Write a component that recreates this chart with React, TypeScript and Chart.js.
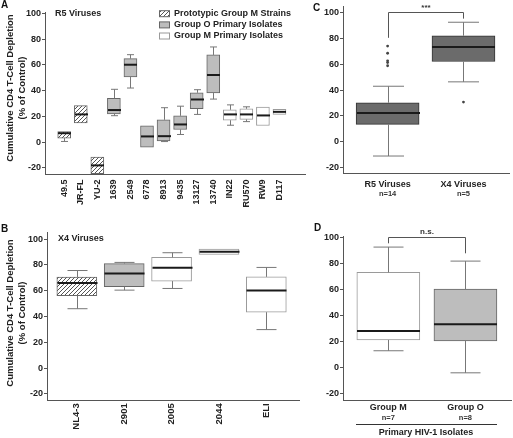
import React, { useEffect, useRef } from 'react';
import { Chart, registerables } from 'chart.js';

Chart.register(...registerables);

const FONT = '"Liberation Sans", Arial, Helvetica, sans-serif';

// ---------- Panel A: R5 viruses ----------
const r5Strains = ['49.5', 'JR-FL', 'YU-2', '1639', '2549', '6778', '8913', '9435', '13127', '13740', 'IN22', 'RU570', 'RW9', 'D117'];
const r5Kind = ['hatch', 'hatch', 'hatch', 'grey', 'grey', 'grey', 'grey', 'grey', 'grey', 'grey', 'white', 'white', 'white', 'white'];
const r5Low = [0.6, 15, -24.5, 20.6, 42.1, -3.8, 0.5, 6, 21.6, 33.5, 13.2, 16, 13, 21.6];
const r5Q1 = [3.2, 15, -24.5, 21.9, 50.7, -3.8, 1, 9.9, 26, 38.2, 17.1, 17.7, 13, 21.6];
const r5Median = [7, 21.6, -18, 25, 60.2, 4.5, 4.7, 13.8, 33.2, 52.2, 21.6, 21.6, 20.8, 23.6];
const r5Q3 = [8.2, 28.4, -11.5, 34.1, 64.9, 12.8, 17.4, 20.5, 38.4, 67.8, 25.2, 26, 27.3, 25.5];
const r5High = [8.2, 28.4, -11.5, 41.1, 68, 12.8, 26.8, 28, 40.8, 74, 29, 27.5, 27.3, 25.5];

// ---------- Panel B: X4 viruses ----------
const x4Strains = ['NL4-3', '2901', '2005', '2044', 'ELI'];
const x4Kind = ['hatch', 'grey', 'white', 'white', 'white'];
const x4Low = [46, 60.4, 61.7, 88, 29.8];
const x4Q1 = [56.2, 63, 67.4, 88, 43.3];
const x4Median = [66, 73.3, 77.7, 90.2, 60.1];
const x4Q3 = [70.5, 81, 85.8, 92.2, 70.7];
const x4High = [75.6, 81.9, 89.4, 92.2, 78];

// ---------- Panel C: R5 vs X4 ----------
const tropismGroups = ['R5 Viruses', 'X4 Viruses'];
const tropismCounts = ['n=14', 'n=5'];
const tropismKind = ['dark', 'dark'];
const tropismLow = [-11.2, 46.4];
const tropismQ1 = [13.4, 62.2];
const tropismMedian = [22.3, 73.5];
const tropismQ3 = [30.2, 82.2];
const tropismHigh = [43, 92.7];
const r5Outliers = [74.2, 68.6, 62.7, 61.4, 58.9];
const x4Outliers = [30.7];

// ---------- Panel D: Group M vs Group O ----------
const isolateGroups = ['Group M', 'Group O'];
const isolateCounts = ['n=7', 'n=8'];
const isolateKind = ['white', 'grey'];
const isolateLow = [13.1, -3.9];
const isolateQ1 = [21.4, 20.6];
const isolateMedian = [28.4, 33.5];
const isolateQ3 = [73.5, 60.6];
const isolateHigh = [93, 82.2];

const legendItems = ['Prototypic Group M Strains', 'Group O Primary Isolates', 'Group M Primary Isolates'];
const legendKinds = ['hatch', 'grey', 'white'];
const yTitleLines = ['Cumulative CD4 T-Cell Depletion', '(% of Control)'];

const FILL: Record<string, string> = { grey: '#bdbdbd', white: '#ffffff', dark: '#6b6b6b' };
const BORDER: Record<string, string> = { hatch: '#666666', grey: '#666666', white: '#9a9a9a', dark: '#333333' };

function makeHatch(): CanvasPattern {
  const c = document.createElement('canvas');
  c.width = 4;
  c.height = 4;
  const g = c.getContext('2d')!;
  g.fillStyle = '#ffffff';
  g.fillRect(0, 0, 4, 4);
  g.strokeStyle = '#555555';
  g.lineWidth = 1;
  g.beginPath();
  g.moveTo(0, 4); g.lineTo(4, 0);
  g.moveTo(-1, 1); g.lineTo(1, -1);
  g.moveTo(3, 5); g.lineTo(5, 3);
  g.stroke();
  return g.createPattern(c, 'repeat')!;
}

function txt(ctx: CanvasRenderingContext2D, s: string, x: number, y: number, size: number,
  align: CanvasTextAlign = 'left', baseline: CanvasTextBaseline = 'middle', color = '#222') {
  ctx.save();
  ctx.font = `bold ${size}px ${FONT}`;
  ctx.fillStyle = color;
  ctx.textAlign = align;
  ctx.textBaseline = baseline;
  ctx.fillText(s, x, y);
  ctx.restore();
}

function yTitle(ctx: CanvasRenderingContext2D, x: number, cy: number) {
  ctx.save();
  ctx.translate(x, cy);
  ctx.rotate(-Math.PI / 2);
  ctx.font = `bold 9.5px ${FONT}`;
  ctx.fillStyle = '#222';
  ctx.textAlign = 'center';
  ctx.textBaseline = 'middle';
  ctx.fillText(yTitleLines[0], 0, 0);
  ctx.fillText(yTitleLines[1], 0, 12);
  ctx.restore();
}

interface PanelSpec {
  labels: string[]; kind: string[];
  low: number[]; q1: number[]; med: number[]; q3: number[]; high: number[];
  xMin: number; xMax: number; yMax: number;
  boxWidth: number; capWidth: number;
  yWidth: number; xHeight: number; padTop: number; padRight: number;
  rotate: boolean; tickSize: number; tickPad: number;
  extra?: any[];
  decorate: (chart: any, hatch: CanvasPattern) => void;
}

function makeConfig(s: PanelSpec): any {
  const hatch = makeHatch();
  const fillOf = (k: string) => (k === 'hatch' ? hatch : FILL[k]);
  const tickFont = { family: FONT, size: s.tickSize, weight: 'bold' as const };
  return {
    type: 'bar',
    data: {
      datasets: [
        {
          type: 'bar',
          data: s.labels.map((_, i) => ({ x: i, y: [s.q1[i], s.q3[i]] })),
          backgroundColor: s.kind.map(fillOf),
          borderColor: s.kind.map((k) => BORDER[k]),
          borderWidth: 1,
          borderSkipped: false,
          barThickness: s.boxWidth,
        },
        ...(s.extra || []),
      ],
    },
    options: {
      responsive: false,
      animation: false,
      devicePixelRatio: 1,
      layout: { padding: { top: s.padTop, right: s.padRight, left: 0, bottom: 0 } },
      plugins: { legend: { display: false }, tooltip: { enabled: false } },
      scales: {
        x: {
          type: 'linear',
          min: s.xMin,
          max: s.xMax,
          offset: false,
          afterFit: (sc: any) => { sc.height = s.xHeight; },
          border: { display: true, color: '#555555', width: 1 },
          grid: { display: false, drawTicks: false },
          ticks: {
            stepSize: 1,
            autoSkip: false,
            includeBounds: false,
            maxRotation: s.rotate ? 90 : 0,
            minRotation: s.rotate ? 90 : 0,
            padding: s.tickPad,
            color: '#222',
            font: tickFont,
            callback: (v: number) => (Number.isInteger(v) && s.labels[v] !== undefined ? s.labels[v] : ''),
          },
        },
        y: {
          min: -25,
          max: s.yMax,
          afterFit: (sc: any) => { sc.width = s.yWidth; },
          border: { display: true, color: '#555555', width: 1 },
          grid: { display: true, drawOnChartArea: false, drawTicks: true, tickLength: 3, color: '#555555' },
          ticks: { stepSize: 20, includeBounds: false, padding: 1, color: '#222', font: { family: FONT, size: 9, weight: 'bold' } },
        },
      },
    },
    plugins: [
      {
        id: 'boxWhiskers',
        afterDatasetsDraw(chart: any) {
          const { ctx, scales: { x, y } } = chart;
          ctx.save();
          s.labels.forEach((_, i) => {
            const cx = Math.round(x.getPixelForValue(i)) + 0.5;
            const pHigh = y.getPixelForValue(s.high[i]);
            const pQ3 = y.getPixelForValue(s.q3[i]);
            const pQ1 = y.getPixelForValue(s.q1[i]);
            const pLow = y.getPixelForValue(s.low[i]);
            const pMed = y.getPixelForValue(s.med[i]);
            ctx.strokeStyle = '#777777';
            ctx.lineWidth = 1;
            ctx.beginPath();
            if (s.high[i] > s.q3[i]) {
              ctx.moveTo(cx, pQ3); ctx.lineTo(cx, pHigh);
              ctx.moveTo(cx - s.capWidth / 2, pHigh); ctx.lineTo(cx + s.capWidth / 2, pHigh);
            }
            if (s.low[i] < s.q1[i]) {
              ctx.moveTo(cx, pQ1); ctx.lineTo(cx, pLow);
              ctx.moveTo(cx - s.capWidth / 2, pLow); ctx.lineTo(cx + s.capWidth / 2, pLow);
            }
            ctx.stroke();
            ctx.strokeStyle = '#1a1a1a';
            ctx.lineWidth = 2;
            ctx.beginPath();
            ctx.moveTo(cx - s.boxWidth / 2, pMed);
            ctx.lineTo(cx + s.boxWidth / 2, pMed);
            ctx.stroke();
          });
          ctx.restore();
        },
        afterDraw(chart: any) {
          s.decorate(chart, hatch);
        },
      },
    ],
  };
}

function bracket(chart: any, top: number, leftEnd: number, rightEnd: number, label: string, labelY: number) {
  const { ctx, scales: { x, y } } = chart;
  const x0 = Math.round(x.getPixelForValue(0)) + 0.5;
  const x1 = Math.round(x.getPixelForValue(1)) + 0.5;
  ctx.save();
  ctx.strokeStyle = '#555555';
  ctx.lineWidth = 1;
  ctx.beginPath();
  ctx.moveTo(x0, y.getPixelForValue(leftEnd));
  ctx.lineTo(x0, Math.round(y.getPixelForValue(top)) + 0.5);
  ctx.lineTo(x1, Math.round(y.getPixelForValue(top)) + 0.5);
  ctx.lineTo(x1, y.getPixelForValue(rightEnd));
  ctx.stroke();
  ctx.restore();
  txt(ctx, label, (x0 + x1) / 2, y.getPixelForValue(labelY), 8, 'center', 'middle', '#333');
}

const specA: PanelSpec = {
  labels: r5Strains, kind: r5Kind, low: r5Low, q1: r5Q1, med: r5Median, q3: r5Q3, high: r5High,
  xMin: -1.16, xMax: 14.56, yMax: 101, boxWidth: 13, capWidth: 7,
  yWidth: 45, xHeight: 45.6, padTop: 12.2, padRight: 5, rotate: true, tickSize: 9, tickPad: 5,
  decorate: (chart, hatch) => {
    const ctx = chart.ctx;
    txt(ctx, 'A', 1, 0, 10, 'left', 'top', '#111');
    yTitle(ctx, 10, 88);
    txt(ctx, 'R5 Viruses', 55, 13.5, 9);
    const rows = [13.7, 24.9, 36];
    legendItems.forEach((t, i) => {
      const k = legendKinds[i];
      ctx.save();
      ctx.fillStyle = k === 'hatch' ? hatch : FILL[k];
      ctx.strokeStyle = BORDER[k];
      ctx.lineWidth = 1;
      ctx.fillRect(159.5, rows[i] - 3, 10, 6);
      ctx.strokeRect(159.5, rows[i] - 3, 10, 6);
      ctx.restore();
      txt(ctx, t, 174, rows[i], 9);
    });
  },
};

const specB: PanelSpec = {
  labels: x4Strains, kind: x4Kind, low: x4Low, q1: x4Q1, med: x4Median, q3: x4Q3, high: x4High,
  xMin: -0.63, xMax: 4.69, yMax: 105, boxWidth: 40, capWidth: 20,
  yWidth: 47, xHeight: 37.7, padTop: 12.6, padRight: 13, rotate: true, tickSize: 9.5, tickPad: 3,
  decorate: (chart) => {
    const ctx = chart.ctx;
    txt(ctx, 'B', 1, 4, 10, 'left', 'top', '#111');
    yTitle(ctx, 10, 93);
    txt(ctx, 'X4 Viruses', 58, 18.5, 9);
  },
};

const specC: PanelSpec = {
  labels: tropismGroups, kind: tropismKind, low: tropismLow, q1: tropismQ1, med: tropismMedian, q3: tropismQ3, high: tropismHigh,
  xMin: -0.588, xMax: 1.6, yMax: 105, boxWidth: 63, capWidth: 31,
  yWidth: 31, xHeight: 46.2, padTop: 4.5, padRight: 1.3, rotate: false, tickSize: 9, tickPad: 5,
  extra: [
    {
      type: 'scatter',
      data: [...r5Outliers.map((v) => ({ x: 0, y: v })), ...x4Outliers.map((v) => ({ x: 1, y: v }))],
      pointRadius: 1.4,
      pointBackgroundColor: '#444444',
      pointBorderWidth: 0,
      showLine: false,
    },
  ],
  decorate: (chart) => {
    const { ctx, scales: { x } } = chart;
    txt(ctx, 'C', 1, 3, 10, 'left', 'top', '#111');
    tropismCounts.forEach((n, i) => txt(ctx, n, x.getPixelForValue(i), 194, 7.5, 'center', 'middle', '#333'));
    bracket(chart, 100.6, 80.6, 95.5, '***', 104.2);
  },
};

const specD: PanelSpec = {
  labels: isolateGroups, kind: isolateKind, low: isolateLow, q1: isolateQ1, med: isolateMedian, q3: isolateQ3, high: isolateHigh,
  xMin: -0.588, xMax: 1.6, yMax: 101, boxWidth: 63, capWidth: 30,
  yWidth: 31, xHeight: 37.8, padTop: 16.7, padRight: 1.3, rotate: false, tickSize: 9, tickPad: 2,
  decorate: (chart) => {
    const { ctx, scales: { x } } = chart;
    txt(ctx, 'D', 2, 3, 10, 'left', 'top', '#111');
    isolateCounts.forEach((n, i) => txt(ctx, n, x.getPixelForValue(i), 198, 7.5, 'center', 'middle', '#333'));
    ctx.save();
    ctx.strokeStyle = '#333333';
    ctx.lineWidth = 1;
    ctx.beginPath();
    ctx.moveTo(44, 204.5);
    ctx.lineTo(185, 204.5);
    ctx.stroke();
    ctx.restore();
    txt(ctx, 'Primary HIV-1 Isolates', 114, 213, 9, 'center', 'middle', '#222');
    bracket(chart, 101, 95.9, 88.2, 'n.s.', 105);
  },
};

function Panel({ spec, left, top, width, height }: { spec: PanelSpec; left: number; top: number; width: number; height: number }) {
  const ref = useRef<HTMLCanvasElement>(null);
  useEffect(() => {
    const chart = new Chart(ref.current!, makeConfig(spec));
    return () => chart.destroy();
  }, [spec]);
  return (
    <canvas
      ref={ref}
      width={width}
      height={height}
      style={{ position: 'absolute', left, top, width, height }}
    />
  );
}

export default function App() {
  return (
    <div style={{ position: 'fixed', left: 0, top: 0, width: 513, height: 438, background: '#ffffff', overflow: 'hidden' }}>
      <Panel spec={specA} left={0} top={0} width={312} height={220} />
      <Panel spec={specC} left={312} top={0} width={201} height={220} />
      <Panel spec={specB} left={0} top={220} width={312} height={218} />
      <Panel spec={specD} left={312} top={220} width={201} height={218} />
    </div>
  );
}
